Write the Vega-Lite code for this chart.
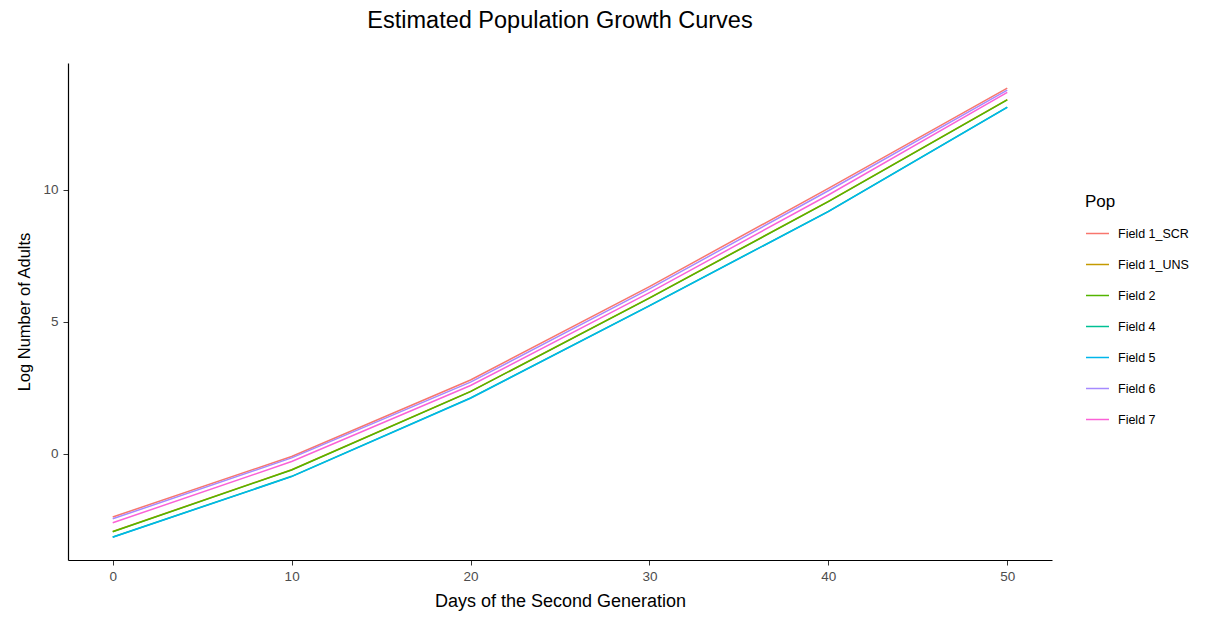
{
  "$schema": "https://vega.github.io/schema/vega-lite/v6.json",
  "autosize": {"type": "none"},
  "padding": {"left": 68, "top": 63, "right": 178, "bottom": 59},
  "width": 984,
  "height": 497,
  "background": "white",
  "title": {
    "text": "Estimated Population Growth Curves",
    "font": "Liberation Sans",
    "fontSize": 23.5,
    "fontWeight": "normal",
    "color": "#000000",
    "anchor": "middle",
    "offset": 31
  },
  "config": {
    "view": {"stroke": null},
    "font": "Liberation Sans"
  },
  "data": {
    "values": [
      {"Day": 0, "Pop": "Field 1_SCR", "LogAdults": -2.39},
      {"Day": 10, "Pop": "Field 1_SCR", "LogAdults": -0.10},
      {"Day": 20, "Pop": "Field 1_SCR", "LogAdults": 2.80},
      {"Day": 30, "Pop": "Field 1_SCR", "LogAdults": 6.34},
      {"Day": 40, "Pop": "Field 1_SCR", "LogAdults": 10.06},
      {"Day": 50, "Pop": "Field 1_SCR", "LogAdults": 13.86},

      {"Day": 0, "Pop": "Field 1_UNS", "LogAdults": -2.94},
      {"Day": 10, "Pop": "Field 1_UNS", "LogAdults": -0.60},
      {"Day": 20, "Pop": "Field 1_UNS", "LogAdults": 2.37},
      {"Day": 30, "Pop": "Field 1_UNS", "LogAdults": 5.91},
      {"Day": 40, "Pop": "Field 1_UNS", "LogAdults": 9.57},
      {"Day": 50, "Pop": "Field 1_UNS", "LogAdults": 13.42},

      {"Day": 0, "Pop": "Field 2", "LogAdults": -2.95},
      {"Day": 10, "Pop": "Field 2", "LogAdults": -0.61},
      {"Day": 20, "Pop": "Field 2", "LogAdults": 2.36},
      {"Day": 30, "Pop": "Field 2", "LogAdults": 5.90},
      {"Day": 40, "Pop": "Field 2", "LogAdults": 9.56},
      {"Day": 50, "Pop": "Field 2", "LogAdults": 13.41},

      {"Day": 0, "Pop": "Field 4", "LogAdults": -3.15},
      {"Day": 10, "Pop": "Field 4", "LogAdults": -0.85},
      {"Day": 20, "Pop": "Field 4", "LogAdults": 2.12},
      {"Day": 30, "Pop": "Field 4", "LogAdults": 5.62},
      {"Day": 40, "Pop": "Field 4", "LogAdults": 9.19},
      {"Day": 50, "Pop": "Field 4", "LogAdults": 13.14},

      {"Day": 0, "Pop": "Field 5", "LogAdults": -3.16},
      {"Day": 10, "Pop": "Field 5", "LogAdults": -0.86},
      {"Day": 20, "Pop": "Field 5", "LogAdults": 2.11},
      {"Day": 30, "Pop": "Field 5", "LogAdults": 5.61},
      {"Day": 40, "Pop": "Field 5", "LogAdults": 9.18},
      {"Day": 50, "Pop": "Field 5", "LogAdults": 13.13},

      {"Day": 0, "Pop": "Field 6", "LogAdults": -2.46},
      {"Day": 10, "Pop": "Field 6", "LogAdults": -0.15},
      {"Day": 20, "Pop": "Field 6", "LogAdults": 2.72},
      {"Day": 30, "Pop": "Field 6", "LogAdults": 6.25},
      {"Day": 40, "Pop": "Field 6", "LogAdults": 9.97},
      {"Day": 50, "Pop": "Field 6", "LogAdults": 13.78},

      {"Day": 0, "Pop": "Field 7", "LogAdults": -2.61},
      {"Day": 10, "Pop": "Field 7", "LogAdults": -0.29},
      {"Day": 20, "Pop": "Field 7", "LogAdults": 2.59},
      {"Day": 30, "Pop": "Field 7", "LogAdults": 6.11},
      {"Day": 40, "Pop": "Field 7", "LogAdults": 9.81},
      {"Day": 50, "Pop": "Field 7", "LogAdults": 13.70}
    ]
  },
  "mark": {"type": "line", "strokeWidth": 1.5, "interpolate": "linear"},
  "encoding": {
    "x": {
      "field": "Day",
      "type": "quantitative",
      "scale": {"domain": [-2.5, 52.5], "nice": false, "zero": false},
      "axis": {
        "title": "Days of the Second Generation",
        "titleFont": "Liberation Sans",
        "titleFontSize": 18,
        "titleFontWeight": "normal",
        "titleColor": "#000000",
        "titlePadding": 10,
        "values": [0, 10, 20, 30, 40, 50],
        "labelFont": "Liberation Sans",
        "labelFontSize": 13.5,
        "labelColor": "#4D4D4D",
        "labelPadding": 4,
        "tickColor": "#333333",
        "tickSize": 5,
        "domainColor": "#000000",
        "domainWidth": 1.2,
        "grid": false
      }
    },
    "y": {
      "field": "LogAdults",
      "type": "quantitative",
      "scale": {"domain": [-4.02, 14.81], "nice": false, "zero": false},
      "axis": {
        "title": "Log Number of Adults",
        "titleFont": "Liberation Sans",
        "titleFontSize": 16.5,
        "titleFontWeight": "normal",
        "titleColor": "#000000",
        "titlePadding": 10,
        "values": [0, 5, 10],
        "labelFont": "Liberation Sans",
        "labelFontSize": 13.5,
        "labelColor": "#4D4D4D",
        "labelPadding": 5,
        "tickColor": "#333333",
        "tickSize": 5,
        "domainColor": "#000000",
        "domainWidth": 1.2,
        "grid": false
      }
    },
    "color": {
      "field": "Pop",
      "type": "nominal",
      "scale": {
        "domain": ["Field 1_SCR", "Field 1_UNS", "Field 2", "Field 4", "Field 5", "Field 6", "Field 7"],
        "range": ["#F8766D", "#C49A00", "#53B400", "#00C094", "#00B6EB", "#A58AFF", "#FB61D7"]
      },
      "legend": {
        "title": "Pop",
        "orient": "none",
        "legendX": 1017,
        "legendY": 131,
        "titleFont": "Liberation Sans",
        "titleFontSize": 17,
        "titleFontWeight": "normal",
        "titleColor": "#000000",
        "titlePadding": 10,
        "labelFont": "Liberation Sans",
        "labelFontSize": 12.5,
        "labelColor": "#000000",
        "labelOffset": 8,
        "symbolType": "stroke",
        "symbolSize": 529,
        "symbolStrokeWidth": 1.5,
        "rowPadding": 12
      }
    }
  }
}
